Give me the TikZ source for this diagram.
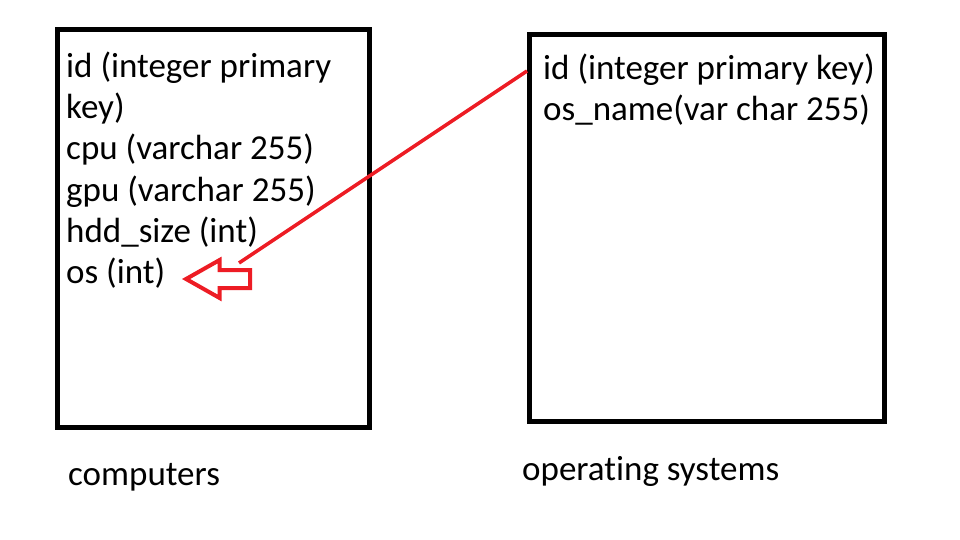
\documentclass[tikz,border=0pt]{standalone}
\usepackage{fontspec}
\setmainfont{Carlito}[Ligatures=CommonOff]
\usetikzlibrary{shapes.arrows}
\definecolor{paintred}{HTML}{ED1C24}

\begin{document}
\begin{tikzpicture}[x=1pt, y=-1pt,
  every node/.style={inner sep=0pt, font=\fontsize{35}{41}\selectfont},
  tablebox/.style={rectangle, draw, line width=5pt},
  field/.style={anchor=base west},
  fkline/.style={draw=paintred, line width=3.5pt},
  fkarrow/.style={single arrow, draw=paintred, line width=4pt, shape border rotate=180,
    minimum height=64pt, inner xsep=0pt, inner ysep=7pt,
    single arrow head extend=10pt, single arrow tip angle=59}]
\useasboundingbox (0,0) rectangle (960,540);
\fill[white] (0,0) rectangle (960,540);
% tables
\node[tablebox, minimum width=312pt, minimum height=397.5pt] (computers) at (213.5,228.25) {};
\node[tablebox, minimum width=354.5pt, minimum height=386pt] (ossys) at (706.75,228) {};
% fields
\foreach \txt [count=\i from 0] in {id (integer primary, key), cpu (varchar 255), gpu (varchar 255), hdd\_size (int), os (int)}
  \node[field] (cfield\i) at (66,{78+41*\i}) {\txt};
\foreach \txt [count=\i from 0] in {id (integer primary key), os\_name(var char 255)}
  \node[field] (ofield\i) at (543,{80+41*\i}) {\txt};
% table names
\node[field] (cname) at (68,485) {computers};
\node[field] (oname) at (522,480) {operating systems};
% foreign key
\node[fkarrow, anchor=tip] (fk) at (182,279) {};
\coordinate (osid) at (527,71);
\coordinate (fkend) at (239,263);
\draw[fkline] (osid) -- (fkend);
\end{tikzpicture}
\end{document}
